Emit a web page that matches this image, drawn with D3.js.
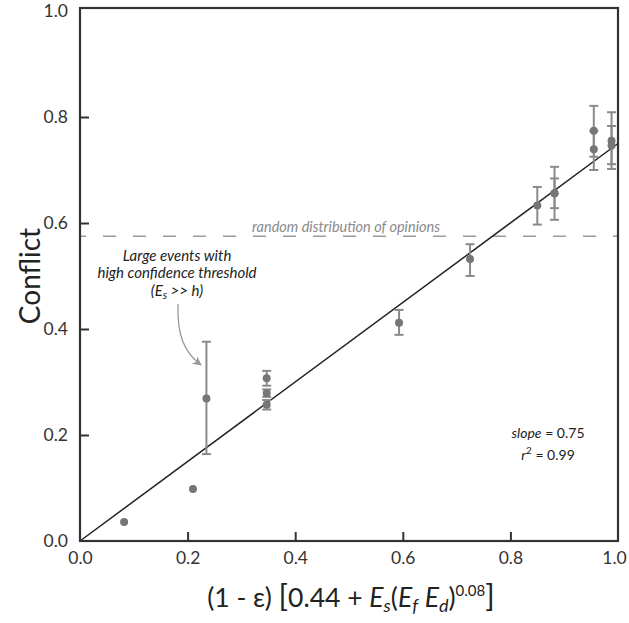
<!DOCTYPE html>
<html>
<head>
<meta charset="utf-8">
<script src="https://cdn.jsdelivr.net/npm/d3@7"></script>
<style>
  body { margin: 0; background: #fff; }
  text { font-family: Lato, "Open Sans", sans-serif; }
</style>
</head>
<body>
<svg id="chart" width="629" height="623"></svg>
<script>
const xVals  = [0.082, 0.210, 0.235, 0.347, 0.347, 0.347, 0.593, 0.725, 0.850, 0.882, 0.882, 0.955, 0.955, 0.988, 0.988];
const yVals  = [0.036, 0.098, 0.269, 0.307, 0.279, 0.257, 0.412, 0.532, 0.633, 0.656, 0.656, 0.774, 0.739, 0.755, 0.746];
const errLo  = [null,  null,  0.164, 0.293, 0.272, 0.248, 0.389, 0.500, 0.597, 0.606, 0.628, 0.725, 0.700, 0.702, 0.711];
const errHi  = [null,  null,  0.376, 0.321, 0.286, 0.266, 0.436, 0.560, 0.668, 0.706, 0.684, 0.821, 0.774, 0.809, 0.783];

const fitSlope = 0.75;
const fitX = [0, 1];
const randomLevel = 0.575;
const tickVals = [0, 0.2, 0.4, 0.6, 0.8, 1.0];

const svg = d3.select("#chart");
const x = d3.scaleLinear().domain([0, 1]).range([80, 618]);
const y = d3.scaleLinear().domain([0, 1]).range([541, 11]);

const points = xVals.map((v, i) => ({ x: v, y: yVals[i], lo: errLo[i], hi: errHi[i] }));

// axes, ticks pointing inward
const xAxis = d3.axisBottom(x).tickValues(tickVals).tickFormat(d3.format(".1f"))
  .tickSize(-9).tickPadding(11);
const yAxis = d3.axisLeft(y).tickValues(tickVals).tickFormat(d3.format(".1f"))
  .tickSize(-9).tickPadding(12);

const gx = svg.append("g").attr("transform", `translate(0,${y(0)})`).call(xAxis);
const gy = svg.append("g").attr("transform", `translate(${x(0)},0)`).call(yAxis);
[gx, gy].forEach(g => {
  g.select(".domain").remove();
  g.selectAll(".tick line").attr("stroke", "#333").attr("stroke-width", 2)
    .filter(d => d === 0 || d === 1).remove();
  g.selectAll(".tick text").attr("fill", "#333").style("font-size", "17.5px");
});
// last x label sits a touch left of the corner, as in the source
gx.selectAll(".tick text").filter(d => d === 1).attr("dx", -4);

// dashed "random" reference
svg.append("line")
  .attr("x1", x(0)).attr("x2", x(1))
  .attr("y1", y(randomLevel)).attr("y2", y(randomLevel))
  .attr("stroke", "#9a9a9a").attr("stroke-width", 1.5)
  .attr("stroke-dasharray", "13,17").attr("stroke-dashoffset", 7);

svg.append("text")
  .attr("x", 346).attr("y", y(randomLevel) - 4)
  .attr("text-anchor", "middle")
  .attr("fill", "#8a8a8a")
  .style("font-style", "italic").style("font-size", "14.5px")
  .text("random distribution of opinions");

// fit line
svg.append("line")
  .attr("x1", x(fitX[0])).attr("y1", y(fitX[0] * fitSlope))
  .attr("x2", x(fitX[1])).attr("y2", y(fitX[1] * fitSlope))
  .attr("stroke", "#222").attr("stroke-width", 1.5);

// error bars
const eb = svg.append("g").attr("stroke", "#8a8a8a").attr("stroke-width", 2)
  .selectAll("g").data(points.filter(d => d.lo !== null)).join("g");
eb.append("line")
  .attr("x1", d => x(d.x)).attr("x2", d => x(d.x))
  .attr("y1", d => y(d.lo)).attr("y2", d => y(d.hi));
eb.append("line")
  .attr("x1", d => x(d.x) - 4.5).attr("x2", d => x(d.x) + 4.5)
  .attr("y1", d => y(d.lo)).attr("y2", d => y(d.lo));
eb.append("line")
  .attr("x1", d => x(d.x) - 4.5).attr("x2", d => x(d.x) + 4.5)
  .attr("y1", d => y(d.hi)).attr("y2", d => y(d.hi));

// points
svg.append("g").selectAll("circle").data(points).join("circle")
  .attr("cx", d => x(d.x)).attr("cy", d => y(d.y))
  .attr("r", 4).attr("fill", "#767676");

// frame
svg.append("rect")
  .attr("x", x(0)).attr("y", y(1) - 3)
  .attr("width", x(1) - x(0)).attr("height", y(0) - y(1) + 3)
  .attr("fill", "none").attr("stroke", "#333").attr("stroke-width", 2.2);

// annotation
const ann = svg.append("text").attr("text-anchor", "middle").attr("fill", "#222")
  .style("font-style", "italic").style("font-size", "15px");
ann.append("tspan").attr("x", 177).attr("y", 261).text("Large events with");
ann.append("tspan").attr("x", 177).attr("y", 278).text("high confidence threshold");
const l3 = ann.append("tspan").attr("x", 177).attr("y", 296);
l3.append("tspan").text("(E");
l3.append("tspan").attr("dy", 3).style("font-size", "11px").text("s");
l3.append("tspan").attr("dy", -3).text(" >> h)");

svg.append("defs").append("marker")
  .attr("id", "arrow").attr("viewBox", "0 0 10 10")
  .attr("refX", 9).attr("refY", 5)
  .attr("markerWidth", 7).attr("markerHeight", 7)
  .attr("orient", "auto")
  .append("path").attr("d", "M0,0 L10,5 L0,10 L3,5 Z").attr("fill", "#999");

svg.append("path")
  .attr("d", "M178,304 C177,335 184,352 201,365")
  .attr("fill", "none").attr("stroke", "#999").attr("stroke-width", 1.3)
  .attr("marker-end", "url(#arrow)");

// fit stats
const st = svg.append("text").attr("text-anchor", "middle").attr("fill", "#222")
  .style("font-size", "14px");
st.append("tspan").attr("x", 548).attr("y", 438)
  .style("font-style", "italic").text("slope");
st.append("tspan").text(" = 0.75");
const r2 = svg.append("text").attr("text-anchor", "middle").attr("fill", "#222")
  .style("font-size", "14px").attr("x", 548).attr("y", 460);
r2.append("tspan").style("font-style", "italic").text("r");
r2.append("tspan").attr("dy", -6).style("font-size", "10px").text("2");
r2.append("tspan").attr("dy", 6).text(" = 0.99");

// axis titles
svg.append("text")
  .attr("transform", `translate(40,${(y(0) + y(1)) / 2}) rotate(-90)`)
  .attr("text-anchor", "middle").attr("fill", "#222")
  .style("font-size", "28px").text("Conflict");

const xt = svg.append("text").attr("x", (x(0) + x(1)) / 2 + 2).attr("y", 607)
  .attr("text-anchor", "middle").attr("fill", "#222").style("font-size", "26.5px");
xt.append("tspan").text("(1 - ε) ");
xt.append("tspan").style("font-size", "31px").text("[");
xt.append("tspan").text("0.44 + ");
xt.append("tspan").style("font-style", "italic").text("E");
xt.append("tspan").attr("dy", 5).style("font-size", "18px").style("font-style", "italic").text("s");
xt.append("tspan").attr("dy", -5).text("(");
xt.append("tspan").style("font-style", "italic").text("E");
xt.append("tspan").attr("dy", 5).style("font-size", "18px").style("font-style", "italic").text("f");
xt.append("tspan").attr("dy", -5).text(" ");
xt.append("tspan").style("font-style", "italic").text("E");
xt.append("tspan").attr("dy", 5).style("font-size", "18px").style("font-style", "italic").text("d");
xt.append("tspan").attr("dy", -5).text(")");
xt.append("tspan").attr("dy", -11).style("font-size", "15px").text("0.08");
xt.append("tspan").attr("dy", 11).style("font-size", "31px").text("]");
</script>
</body>
</html>
